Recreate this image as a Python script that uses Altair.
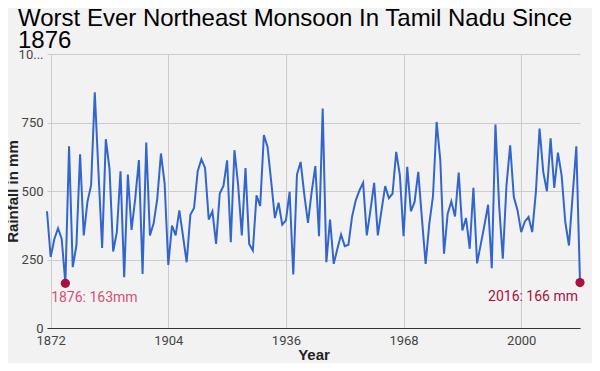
import altair as alt
import pandas as pd

years = list(range(1871, 2017))
rainfall = [
    426, 259, 325, 364, 325, 163, 663, 222, 301, 634,   # 1871-1880
    338, 460, 521, 860, 570, 292, 689, 582, 279, 350,   # 1881-1890
    572, 185, 560, 358, 472, 613, 197, 677, 338, 381,   # 1891-1900
    472, 637, 527, 230, 374, 338, 429, 335, 240, 413,   # 1901-1910
    438, 572, 616, 584, 396, 426, 307, 491, 518, 612,   # 1911-1920
    313, 649, 521, 338, 584, 307, 283, 484, 445, 704,   # 1921-1930
    661, 533, 401, 457, 377, 393, 497, 195, 560, 606,   # 1931-1940
    487, 384, 497, 591, 335, 801, 240, 396, 234, 289,   # 1941-1950
    341, 299, 304, 407, 466, 502, 530, 338, 430, 530,   # 1951-1960
    338, 429, 518, 474, 490, 643, 557, 335, 588, 426,   # 1961-1970
    460, 570, 399, 234, 380, 480, 752, 612, 271, 417,   # 1971-1980
    462, 407, 567, 356, 401, 289, 512, 236, 305, 375,   # 1981-1990
    450, 218, 743, 447, 253, 521, 667, 478, 430, 350,   # 1991-2000
    389, 405, 350, 497, 728, 570, 499, 692, 511, 640,   # 2001-2010
    557, 386, 301, 484, 663, 166,                       # 2011-2016
]

x_ticks = [1872, 1904, 1936, 1968, 2000]
y_ticks = [0, 250, 500, 750, 1000]

ann_years = [1876, 2016]
ann_values = [163, 166]
ann_labels = ["1876: 163mm", "2016: 166 mm"]

df = pd.DataFrame({"Year": years, "Rainfall": rainfall})
ann = pd.DataFrame({"Year": ann_years, "Rainfall": ann_values, "Label": ann_labels})

x_enc = alt.X(
    "Year:Q",
    scale=alt.Scale(domain=[1871, 2016], nice=False, zero=False),
    axis=alt.Axis(
        values=x_ticks, format="d", title="Year", grid=True,
        gridColor="#cccccc", domain=True, domainColor="#333333", ticks=False,
        labelFont="Roboto", labelFontSize=13, labelColor="#444444", labelPadding=6,
        titleFont="Liberation Sans", titleFontSize=15, titleFontWeight="bold",
        titleColor="#222222", titlePadding=0, labelFlush=False,
    ),
)
y_enc = alt.Y(
    "Rainfall:Q",
    scale=alt.Scale(domain=[0, 1000], nice=False),
    axis=alt.Axis(
        values=y_ticks, title="Rainfall in mm", grid=True, gridColor="#cccccc",
        domain=False, ticks=False,
        labelExpr="datum.value == 1000 ? '10...' : datum.label",
        labelFont="Roboto", labelFontSize=13, labelColor="#444444", labelPadding=4,
        titleFont="Liberation Sans", titleFontSize=15, titleFontWeight="bold",
        titleColor="#222222", titleX=-27, titleY=137,
    ),
)

line = alt.Chart(df).mark_line(color="#3366cc", strokeWidth=2).encode(x=x_enc, y=y_enc)

dots = alt.Chart(ann).mark_circle(size=85, color="#a8113f", opacity=1).encode(
    x="Year:Q", y="Rainfall:Q"
)

lab1 = alt.Chart(ann[ann["Year"] == 1876]).mark_text(
    align="center", dx=29, dy=15, font="Roboto", fontSize=14, color="#d4507a"
).encode(x="Year:Q", y="Rainfall:Q", text="Label:N")

lab2 = alt.Chart(ann[ann["Year"] == 2016]).mark_text(
    align="right", dx=-2, dy=14, font="Roboto", fontSize=14, color="#a8113f"
).encode(x="Year:Q", y="Rainfall:Q", text="Label:N")

chart = alt.layer(line, dots, lab1, lab2).properties(
    width=533,
    height=274,
    title=alt.TitleParams(
        text=["Worst Ever Northeast Monsoon In Tamil Nadu Since", "1876"],
        anchor="start", frame="group", font="Liberation Sans", fontSize=24,
        fontWeight="normal", color="#000000", dx=-29, dy=9, offset=4, lineHeight=22,
    ),
    padding={"left": 39, "top": 46, "right": 12, "bottom": 35},
    autosize=alt.AutoSizeParams(type="none"),
    background="#f2f2f2",
).configure_view(stroke=None)

chart.save("out.html", embed_options={"renderer": "svg", "actions": False})
